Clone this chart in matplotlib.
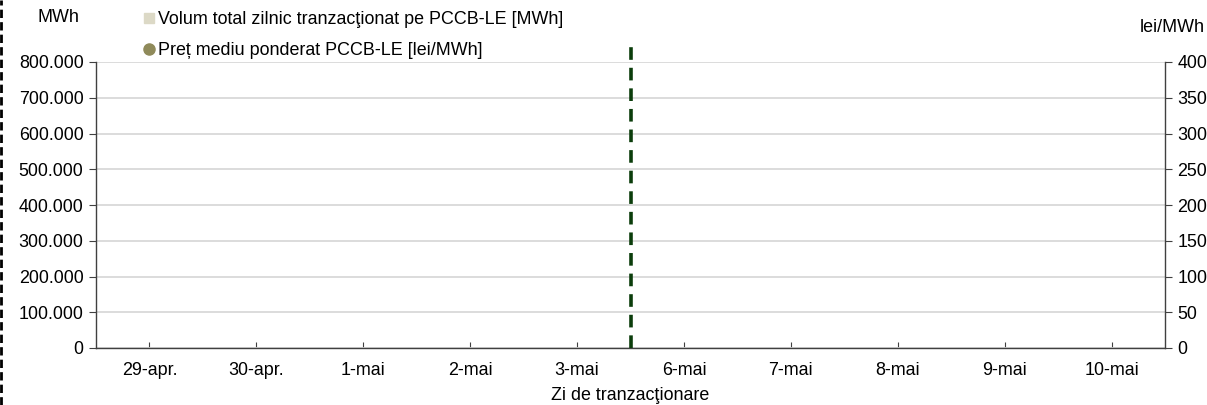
import numpy as np
import matplotlib
matplotlib.use("Agg")
import matplotlib.pyplot as plt
from matplotlib.lines import Line2D
from matplotlib.ticker import FuncFormatter, MultipleLocator

plt.rcParams['font.family'] = ['Liberation Sans', 'DejaVu Sans']
plt.rcParams['font.size'] = 12.9

# date (niciun volum / pret afisat in grafic)
zile = ["29-apr.", "30-apr.", "1-mai", "2-mai", "3-mai",
        "6-mai", "7-mai", "8-mai", "9-mai", "10-mai"]
volum = [0, 0, 0, 0, 0, 0, 0, 0, 0, 0]
pret = [np.nan] * 10
separator_poz = 4.5  # intre 3-mai si 6-mai

c_volum = "#dcd9c6"
c_pret = "#8f8a5a"
c_ax = "#404040"

fig = plt.figure(figsize=(12.07, 4.05), dpi=100)
ax = fig.add_axes([96/1207, 57/405, (1165-96)/1207, (348-62)/405])
ax2 = ax.twinx()

x = np.arange(len(zile))
ax.bar(x, volum, width=0.6, color=c_volum, linewidth=0)
ax2.plot(x, pret, color=c_pret, marker='o')

ax.set_xlim(-0.5, len(zile) - 0.5)
ax.set_ylim(0, 800000)
ax2.set_ylim(0, 400)
ax.yaxis.set_major_locator(MultipleLocator(100000))
ax2.yaxis.set_major_locator(MultipleLocator(50))
ax.yaxis.set_major_formatter(FuncFormatter(lambda v, p: f"{int(v):,}".replace(",", ".")))

ax.set_xticks(x)
ax.set_xticklabels(zile)
ax.grid(axis='y', color='#d9d9d9', linewidth=1.3)
ax.set_axisbelow(True)

for a in (ax, ax2):
    a.spines['top'].set_visible(False)
    for s in a.spines.values():
        s.set_color(c_ax)
        s.set_linewidth(1.0)
ax.spines['right'].set_visible(False)
ax2.spines['left'].set_visible(False)
ax2.spines['bottom'].set_visible(False)

ax.tick_params(axis='x', direction='in', length=4, color=c_ax, pad=10)
ax.tick_params(axis='y', direction='out', length=5, color=c_ax, pad=4)
ax2.tick_params(axis='y', direction='out', length=5, color=c_ax, pad=4)

ax.set_xlabel("Zi de tranzacţionare", labelpad=5.5)

ax.axvline(separator_poz, ymin=0, ymax=1.075, color="#0b3d0b", linewidth=2.6,
           linestyle=(0, (3.5, 2.2)), clip_on=False, zorder=5)

fig.text(58/1207, 1 - 18/405, "MWh", ha='center', va='center')
fig.text(1205/1207, 1 - 27/405, "lei/MWh", ha='right', va='center')

handles = [Line2D([], [], linestyle='none', marker='s', markersize=7, color=c_volum),
           Line2D([], [], linestyle='none', marker='o', markersize=8, color=c_pret)]
labels = ["Volum total zilnic tranzacţionat pe PCCB-LE [MWh]",
          "Preț mediu ponderat PCCB-LE [lei/MWh]"]
fig.legend(handles, labels, loc='upper left', bbox_to_anchor=(144/1207, 1 - 11/405),
           frameon=False, handlelength=0.6, handletextpad=0.2, labelspacing=0.78,
           borderpad=0, borderaxespad=0)

# chenar punctat in stanga
fig.add_artist(Line2D([1/1207, 1/1207], [0, 1], transform=fig.transFigure,
                      color='black', linewidth=2, linestyle=(0, (3, 1.5))))

fig.savefig("out.png", dpi=100)
